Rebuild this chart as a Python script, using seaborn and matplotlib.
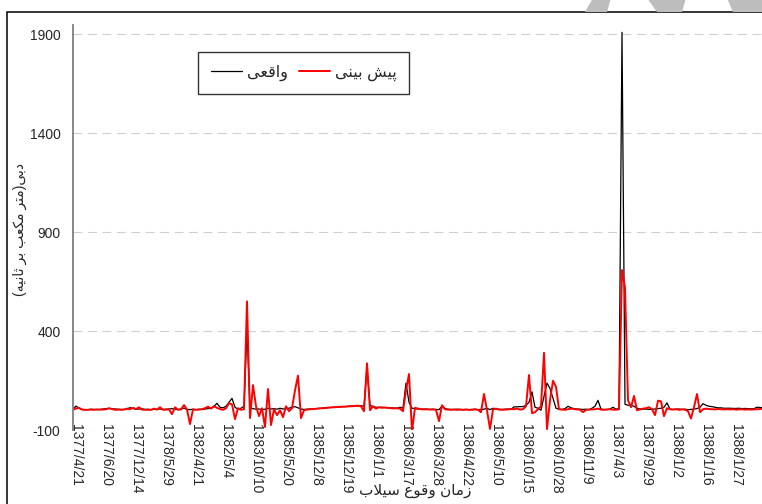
import numpy as np
import pandas as pd
import matplotlib
matplotlib.use('Agg')
import matplotlib.pyplot as plt
from matplotlib.patches import Rectangle, Polygon
import seaborn as sns

# observed (black) and predicted (red) flood discharge, one value per event
actual = [5, 21, 10, 4, 3, 3, 5, 4, 3, 4,
          6, 8, 9, 8, 6, 5, 4, 4, 6, 13,
          8, 5, 6, 7, 4, 5, 3, 4, 5, 6,
          4, 5, 6, 8, 5, 4, 6, 10, 4, 3,
          5, 3, 5, 4, 6, 8, 10, 20, 35, 15,
          12, 20, 40, 60, 15, 5, 10, 20, 410, 10,
          8, 5, 6, 4, 5, 10, 6, 8, 5, 10,
          6, 8, 10, 15, 18, 12, 6, 4, 5, 6,
          6, 8, 9, 10, 12, 13, 14, 15, 16, 17,
          18, 19, 20, 21, 22, 22, 23, 20, 218, 25,
          18, 15, 14, 15, 13, 12, 12, 11, 10, 15,
          10, 137, 40, 10, 8, 6, 5, 6, 5, 4,
          5, 4, 3, 20, 8, 5, 4, 3, 5, 4,
          3, 4, 3, 4, 5, 3, 4, 5, 10, 3,
          10, 6, 5, 4, 5, 6, 5, 17, 17, 18,
          18, 25, 40, 93, 15, 10, 0, 70, 137, 110,
          60, 10, 5, 4, 8, 20, 12, 8, 6, 5,
          4, 5, 3, 10, 20, 50, 5, 4, 3, 6,
          15, 5, 10, 1910, 30, 25, 25, 20, 10, 6,
          5, 6, 4, 5, 6, 8, 10, 15, 37, 5,
          4, 5, 6, 4, 5, 3, 4, 6, 8, 15,
          33, 25, 20, 18, 15, 12, 12, 10, 10, 10,
          9, 9, 10, 8, 9, 8, 7, 8, 15, 14,
          12, 10, 10, 9, 9]

predicted = [3, 8, 12, 3, 2, 2, 3, 2, 4, 3,
             3, 5, 10, 6, 2, 3, 2, 3, 8, 5,
             12, 6, 15, 3, 2, 2, 2, 8, 3, 15,
             2, 3, 4, -20, 15, 2, 4, 26, 3, -70,
             4, 2, 3, 5, 10, 18, 8, 20, 12, 6,
             2, 10, 35, 30, -45, 10, 2, 5, 550, -40,
             127, 20, -30, 10, -85, 107, -75, 5, -25, 0,
             -35, 20, -5, 10, 100, 175, -40, 0, 3, 5,
             6, 7, 9, 10, 11, 13, 14, 15, 16, 17,
             18, 18, 20, 20, 22, 23, 20, -5, 237, 0,
             20, 8, 15, 12, 14, 12, 10, 9, 10, 8,
             -5, 100, 183, -105, 12, 8, 5, 4, 5, 3,
             4, 2, -55, 25, 5, 3, 2, 4, 2, 3,
             2, 3, 2, 2, 4, 2, -10, 82, 0, -95,
             5, 8, 3, 2, 3, 4, 6, 5, 8, 3,
             5, 20, 178, -15, -10, 5, 20, 290, -95, 50,
             149, 118, 5, 3, 2, 5, 8, 6, 4, 3,
             -10, 2, 3, 4, 5, 8, 3, 2, 4, 5,
             3, 2, 5, 708, 620, 50, 15, 72, 0, 4,
             8, 10, 15, 5, -25, 48, 45, -30, 10, 5,
             3, 5, 2, 4, 3, -5, -42, 15, 82, -10,
             5, 8, 6, 5, 4, 6, 5, 4, 5, 4,
             5, 3, 4, 5, 3, 4, 3, 4, 5, 6,
             8, 6, 5, 4, 5]

date_labels = ['1377/4/21', '1377/6/20', '1377/12/14', '1378/5/29', '1382/4/21', '1382/5/4',
               '1383/10/10', '1385/5/20', '1385/12/8', '1385/12/19', '1386/1/1', '1386/3/17',
               '1386/3/28', '1386/4/22', '1386/5/10', '1386/10/15', '1386/10/28', '1386/11/9',
               '1387/4/3', '1387/9/29', '1388/1/2', '1388/1/16', '1388/1/27', '1388/2/8']
y_ticks = [-100, 400, 900, 1400, 1900]

# --- simple persian shaping (presentation forms + visual order) ---
JOIN = {
    'ا': ('\ufe8d', '\ufe8e'), 'د': ('\ufea9', '\ufeaa'), 'ر': ('\ufead', '\ufeae'),
    'ز': ('\ufeaf', '\ufeb0'), 'و': ('\ufeed', '\ufeee'),
    'ب': ('\ufe8f', '\ufe90', '\ufe91', '\ufe92'), 'پ': ('\ufb56', '\ufb57', '\ufb58', '\ufb59'),
    'ت': ('\ufe95', '\ufe96', '\ufe97', '\ufe98'), 'ث': ('\ufe99', '\ufe9a', '\ufe9b', '\ufe9c'),
    'س': ('\ufeb1', '\ufeb2', '\ufeb3', '\ufeb4'), 'ش': ('\ufeb5', '\ufeb6', '\ufeb7', '\ufeb8'),
    'ع': ('\ufec9', '\ufeca', '\ufecb', '\ufecc'), 'ق': ('\ufed5', '\ufed6', '\ufed7', '\ufed8'),
    'ک': ('\ufb8e', '\ufb8f', '\ufb90', '\ufb91'), 'ل': ('\ufedd', '\ufede', '\ufedf', '\ufee0'),
    'م': ('\ufee1', '\ufee2', '\ufee3', '\ufee4'), 'ن': ('\ufee5', '\ufee6', '\ufee7', '\ufee8'),
    'ه': ('\ufee9', '\ufeea', '\ufeeb', '\ufeec'), 'ی': ('\ufbfc', '\ufbfd', '\ufbfe', '\ufbff'),
}


def fa(text):
    out = []
    i = 0
    n = len(text)
    while i < n:
        c = text[i]
        if c not in JOIN:
            out.append(c)
            i += 1
            continue
        prev = text[i - 1] if i > 0 else ''
        after_prev = prev in JOIN and len(JOIN[prev]) == 4
        if c == 'ل' and i + 1 < n and text[i + 1] == 'ا':
            out.append('\ufefc' if after_prev else '\ufefb')
            i += 2
            continue
        nxt = text[i + 1] if i + 1 < n else ''
        to_next = len(JOIN[c]) == 4 and nxt in JOIN
        f = JOIN[c]
        if after_prev and to_next:
            g = f[3]
        elif after_prev:
            g = f[1]
        elif to_next:
            g = f[2]
        else:
            g = f[0]
        out.append(g)
        i += 1
    s = ''.join(reversed(out))
    return s.translate(str.maketrans('()', ')('))


sns.set_style('white')
plt.rcParams['font.family'] = ['Liberation Sans', 'DejaVu Sans']
plt.rcParams['axes.unicode_minus'] = False

W, H = 762, 504
fig = plt.figure(figsize=(W / 100, H / 100), dpi=100)
ax = fig.add_axes([73 / W, 74 / H, 720 / W, 405 / H])

df = pd.DataFrame({'event': np.arange(len(actual)), 'actual': actual, 'predicted': predicted})
sns.lineplot(data=df, x='event', y='actual', color='black', lw=0.9, ax=ax, label=fa('واقعی'))
sns.lineplot(data=df, x='event', y='predicted', color='#ff0000', lw=1.4, ax=ax, label=fa('پیش بینی'))

ax.set_xlim(0, 240)
ax.set_ylim(-100, 1947)
ax.set_yticks(y_ticks)
ax.set_xticks(np.arange(1, 1 + 10 * len(date_labels), 10))
ax.set_xticklabels(date_labels, rotation=270, fontsize=10)
ax.tick_params(axis='x', length=0, pad=-4.5)
ax.tick_params(axis='y', length=4.5, width=1, color='#7f7f7f', direction='out', pad=4.5, labelsize=10)
ax.set_xlabel('')
ax.set_ylabel('')
ax.yaxis.grid(True, color='#cfcfcf', lw=0.8, linestyle=(0, (8, 5)))
ax.set_axisbelow(True)
for s in ['top', 'right', 'bottom']:
    ax.spines[s].set_visible(False)
ax.spines['left'].set_color('#7f7f7f')
ax.spines['left'].set_linewidth(1.3)

leg = ax.legend(loc='upper left', bbox_to_anchor=(198 / W, 1 - 52 / H), bbox_transform=fig.transFigure,
                ncol=2, frameon=True, fancybox=False, borderaxespad=0, fontsize=11.5,
                handlelength=1.95, handletextpad=0.3, columnspacing=0.7, borderpad=0.8)
leg.get_frame().set_edgecolor('black')
leg.get_frame().set_linewidth(1.0)

fig.text(20 / W, 1 - 230 / H, fa('دبی(متر مکعب بر ثانیه)'), rotation=90, ha='center', va='center', fontsize=10)
fig.text(415 / W, 1 - 491 / H, fa('زمان وقوع سیلاب'), ha='center', va='center', fontsize=11)

# chart-area border (cropped on right/bottom) and header shapes
fig.add_artist(Rectangle((7 / W, -0.05), 1.2, 1 - 12 / H + 0.05, transform=fig.transFigure,
                         fill=False, edgecolor='black', lw=1.1))
for poly in ([(593, -2), (611, -2), (607, 12), (585, 12)],
             [(647, -2), (686, -2), (682, 12), (657, 12)],
             [(727, -2), (765, -2), (765, 12), (733, 12)]):
    fig.add_artist(Polygon([(x / W, 1 - y / H) for x, y in poly], closed=True,
                           transform=fig.transFigure, color='#bdbdbd', lw=0))

fig.savefig('out.png', dpi=100)
